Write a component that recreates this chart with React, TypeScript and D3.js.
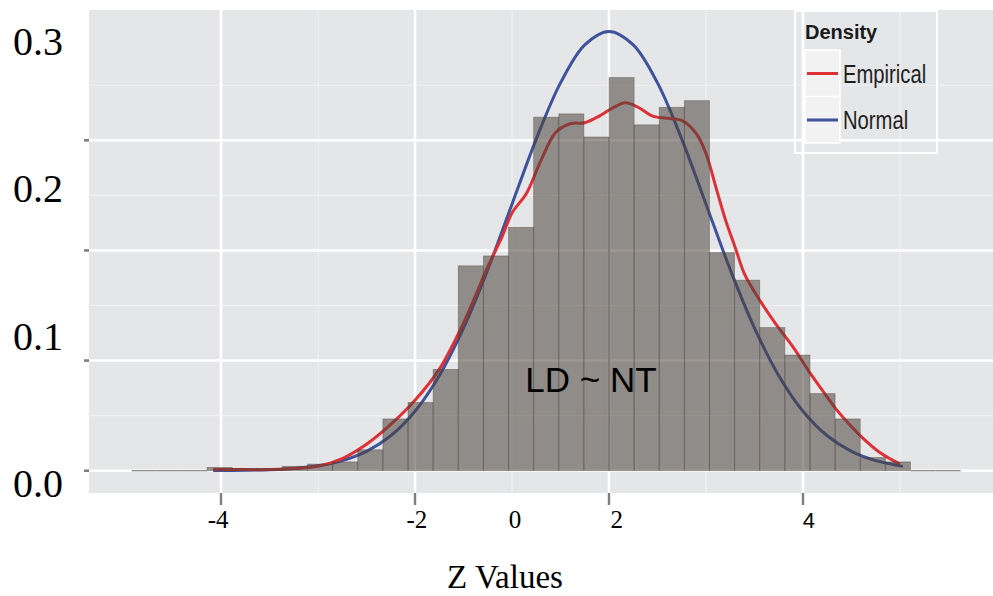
import React from "react";
import * as d3 from "d3";

// ---- data ----
const binStart = -4.921;
const binWidth = 0.259;
const binDensity = [
  0, 0, 0,
  0.003, 0.002, 0.002, 0.004, 0.006, 0.008, 0.019, 0.047, 0.062, 0.092,
  0.186, 0.195, 0.221, 0.321, 0.324, 0.303, 0.357, 0.314, 0.33, 0.336,
  0.198, 0.173, 0.13, 0.105, 0.07, 0.047, 0.012, 0.008,
  0, 0,
];

const normalU = [-4.08, -3.75, -3.5, -3.25, -3, -2.75, -2.5, -2.25, -2, -1.75, -1.5, -1.25, -1, -0.75, -0.5, -0.25, 0, 0.25, 0.5, 0.75, 1, 1.25, 1.5, 1.75, 2, 2.25, 2.5, 2.75, 3, 3.03];
const normalD = [0.0001, 0.0004, 0.0009, 0.002, 0.0044, 0.0091, 0.0175, 0.0317, 0.054, 0.0863, 0.1295, 0.1826, 0.242, 0.3011, 0.3521, 0.3867, 0.3989, 0.3867, 0.3521, 0.3011, 0.242, 0.1826, 0.1295, 0.0863, 0.054, 0.0317, 0.0175, 0.0091, 0.0044, 0.004];

const empU = [-4.08, -3.75, -3.5, -3.25, -3, -2.75, -2.5, -2.25, -2, -1.75, -1.5, -1.25, -1.1, -1, -0.85, -0.7, -0.55, -0.4, -0.25, -0.1, 0.05, 0.17, 0.3, 0.45, 0.6, 0.75, 0.9, 1, 1.1, 1.2, 1.3, 1.4, 1.56, 1.73, 1.9, 2.07, 2.2, 2.35, 2.5, 2.6, 2.8, 3];
const empD = [0.001, 0.001, 0.001, 0.002, 0.004, 0.011, 0.024, 0.042, 0.064, 0.092, 0.134, 0.185, 0.213, 0.234, 0.252, 0.282, 0.307, 0.315, 0.316, 0.322, 0.33, 0.334, 0.33, 0.322, 0.32, 0.318, 0.306, 0.288, 0.258, 0.228, 0.203, 0.178, 0.154, 0.132, 0.112, 0.089, 0.073, 0.055, 0.04, 0.031, 0.016, 0.006];

const xMajor = [-4, -2, 0, 2];
const xMinor = [-3, -1, 1, 3];
const yMajor = [0, 0.1, 0.2, 0.3];
const yMinor = [0.05, 0.15, 0.25, 0.35];
const xLabelText = ["-4", "-2", "0", "2", "4"];
const xLabelAt = [-4.03, -1.98, -0.97, 0.08, 2.06];
const yLabelText = ["0.0", "0.1", "0.2", "0.3"];
const yLabelAt = [0, 0.1, 0.2, 0.3];
const legendTitle = "Density";
const legendItems = ["Empirical", "Normal"];
const legendColors = ["#dd3137", "#3f529c"];

export default function App() {
  const W = 993, H = 596;
  const panel = { x0: 89, x1: 993, y0: 10, y1: 493 };
  const x = d3.scaleLinear().domain([-4, 2]).range([221, 803]);
  const y = d3.scaleLinear().domain([0, 0.3]).range([470.7, 140.3]);
  const yLab = d3.scaleLinear().domain([0, 0.3]).range([497, 55]);

  const mkLine = (us: number[]) =>
    d3.line<number>()
      .x((_, i) => x(us[i]))
      .y((d) => y(d))
      .curve(d3.curveCatmullRom.alpha(0.5));

  const empPath = mkLine(empU)(empD) || "";
  const normPath = mkLine(normalU)(normalD) || "";

  const serif = "'Liberation Serif', 'Times New Roman', serif";
  const sans = "'Liberation Sans', Arial, sans-serif";

  return (
    <div style={{ position: "absolute", left: 0, top: 0 }}>
      <svg width={W} height={H} style={{ display: "block", background: "#fff" }}>
        <rect x={panel.x0} y={panel.y0} width={panel.x1 - panel.x0} height={panel.y1 - panel.y0} fill="#e5e6e8" />
        {yMinor.map((v) => (
          <line key={"ym" + v} x1={panel.x0} x2={panel.x1} y1={y(v)} y2={y(v)} stroke="#f0f1f2" strokeWidth={1.2} />
        ))}
        {xMinor.map((v) => (
          <line key={"xm" + v} x1={x(v)} x2={x(v)} y1={panel.y0} y2={panel.y1} stroke="#f0f1f2" strokeWidth={1.2} />
        ))}
        {yMajor.map((v) => (
          <line key={"yM" + v} x1={panel.x0} x2={panel.x1} y1={y(v)} y2={y(v)} stroke="#ffffff" strokeWidth={2.6} />
        ))}
        {xMajor.map((v) => (
          <line key={"xM" + v} x1={x(v)} x2={x(v)} y1={panel.y0} y2={panel.y1} stroke="#ffffff" strokeWidth={2.6} />
        ))}

        <path d={normPath} fill="none" stroke={legendColors[1]} strokeWidth={3} />
        <path d={empPath} fill="none" stroke={legendColors[0]} strokeWidth={3} />

        {binDensity.map((d, i) => {
          const a = x(binStart + i * binWidth);
          const b = x(binStart + (i + 1) * binWidth);
          if (d === 0) {
            return <line key={"b" + i} x1={a} x2={b} y1={y(0)} y2={y(0)} stroke="#8f8b88" strokeWidth={1.3} />;
          }
          return (
            <rect key={"b" + i} x={a} y={y(d)} width={b - a} height={y(0) - y(d)}
              fill="#4b423a" fillOpacity={0.55} stroke="#4b423a" strokeOpacity={0.45} strokeWidth={0.8} />
          );
        })}

        {/* axis ticks */}
        {yMajor.map((v) => (
          <line key={"yt" + v} x1={84} x2={89} y1={y(v)} y2={y(v)} stroke="#7f7f7f" strokeWidth={2.6} />
        ))}
        {xMajor.map((v) => (
          <line key={"xt" + v} x1={x(v)} x2={x(v)} y1={493} y2={505} stroke="#7f7f7f" strokeWidth={2.4} />
        ))}

        {xLabelText.map((t, i) => (
          <text key={"xl" + t} x={x(xLabelAt[i])} y={528} textAnchor="middle"
            fontFamily={i === 4 ? sans : serif} fontSize={i === 4 ? 22 : 25} fill="#000">
            {t}
          </text>
        ))}
        {yLabelText.map((t, i) => (
          <text key={"yl" + t} x={13} y={yLab(yLabelAt[i])} fontFamily={serif} fontSize={40} fill="#000">
            {t}
          </text>
        ))}

        <text x={505} y={588} textAnchor="middle" fontFamily={serif} fontSize={33} fill="#000">Z Values</text>
        <text x={591} y={392} textAnchor="middle" fontFamily={sans} fontSize={35} fill="#000">LD ~ NT</text>

        {/* legend */}
        <g>
          <rect x={795} y={11} width={142} height={142} fill="none" stroke="#ffffff" strokeWidth={2} />
          <line x1={803} x2={803} y1={11} y2={153} stroke="#ffffff" strokeWidth={1.5} />
          <text x={805} y={39} fontFamily={sans} fontWeight="bold" fontSize={20} fill="#1a1a1a">{legendTitle}</text>
          {legendItems.map((t, i) => {
            const top = 50 + i * 46.5;
            const cy = top + 23.5;
            return (
              <g key={t}>
                <rect x={805} y={top} width={35} height={46.5} fill="#f2f2f2" stroke="#ffffff" strokeWidth={1.5} />
                <line x1={807} x2={838} y1={cy} y2={cy} stroke={legendColors[i]} strokeWidth={3} />
                <text transform={`translate(843, ${cy + 9}) scale(0.81, 1)`} fontFamily={sans} fontSize={25} fill="#1f1f1f">{t}</text>
              </g>
            );
          })}
        </g>
      </svg>
    </div>
  );
}
